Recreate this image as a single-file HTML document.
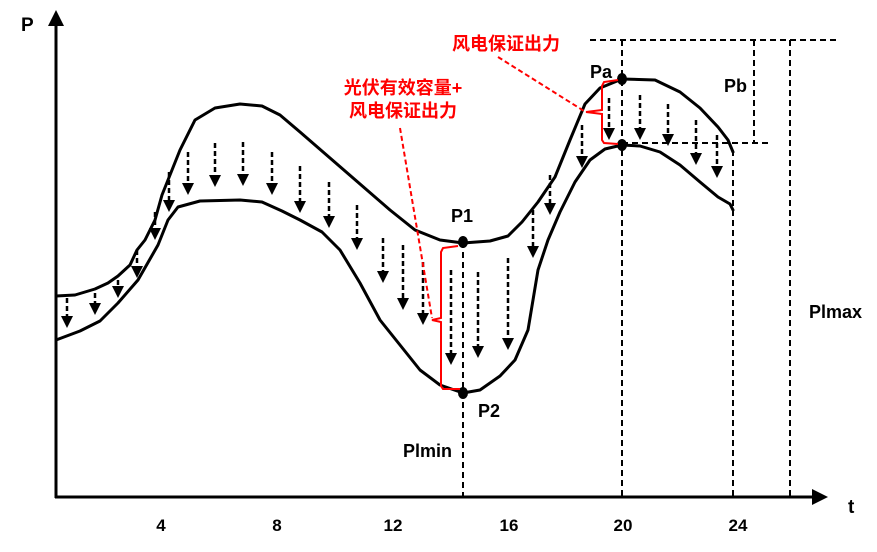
<!DOCTYPE html>
<html><head><meta charset="utf-8"><style>
html,body{margin:0;padding:0;background:#fff;}
svg text{font-family:"Liberation Sans","Noto Sans CJK SC",sans-serif;font-weight:bold;}
</style></head><body>
<svg id="s" width="877" height="547" viewBox="0 0 877 547" xmlns="http://www.w3.org/2000/svg">
<g stroke="#000" stroke-width="3" fill="none" stroke-linejoin="round">
<line x1="56" y1="498" x2="56" y2="22"/>
<line x1="55" y1="497" x2="815" y2="497"/>
</g>
<polygon points="56,10 48,26 64,26" fill="#000"/>
<polygon points="828,497 812,489 812,505" fill="#000"/>
<text x="21" y="31" font-size="19">P</text>
<text x="848" y="513" font-size="19">t</text>
<g font-size="17" text-anchor="middle">
<text x="161" y="531">4</text><text x="277" y="531">8</text><text x="393" y="531">12</text>
<text x="509" y="531">16</text><text x="623" y="531">20</text><text x="738" y="531">24</text>
</g>
<g stroke="#000" stroke-width="2" stroke-dasharray="6,4" fill="none">
<line x1="463" y1="242" x2="463" y2="497"/>
<line x1="622" y1="40" x2="622" y2="497"/>
<line x1="733" y1="150" x2="733" y2="497"/>
<line x1="790" y1="40" x2="790" y2="497"/>
<line x1="590" y1="40" x2="840" y2="40"/>
<line x1="622" y1="143" x2="772" y2="143"/>
<line x1="754" y1="40" x2="754" y2="143"/>
</g>
<g id="arr"></g>
<g stroke="#000" stroke-width="3" fill="none" stroke-linejoin="round" stroke-linecap="round">
<polyline points="56,296 75,295 95,289 108,283 118,276 130,265 137,250 145,240 155,220 162,195 170,175 180,150 195,120 215,108 240,104 262,106 280,115 300,132 330,158 360,184 390,210 415,230 440,240 463,243 490,241 508,236 522,222 538,202 555,177 570,140 585,104 600,88 622,79 655,80 680,92 700,108 718,127 728,140 733,152"/>
<polyline points="56,340 80,331 100,321 118,303 138,280 158,245 168,220 178,207 200,201 240,200 262,202 282,211 300,220 322,232 340,250 360,283 380,320 400,345 420,370 440,385 463,393 480,390 500,376 515,360 528,330 533,300 538,270 548,240 560,212 575,182 590,160 605,149 622,145 640,146 660,152 680,165 700,182 718,197 730,204 733,210"/>
</g>
<g fill="#000">
<ellipse cx="463" cy="242" rx="5" ry="6"/><ellipse cx="463" cy="393" rx="5" ry="6"/>
<ellipse cx="622" cy="79" rx="5" ry="6"/><ellipse cx="622" cy="145" rx="5" ry="6"/>
</g>
<g stroke="#f00" stroke-width="2" fill="none">
<polyline points="458,246 443,248 441,252 441,318 432,320 441,322 441,386 443,389 460,389"/>
<polyline points="618,80 604,82 602,86 602,110 586,112 602,114 602,140 604,143 618,144"/>
<line x1="400" y1="128" x2="432" y2="318" stroke-dasharray="5,3"/>
<line x1="498" y1="57" x2="584" y2="111" stroke-dasharray="5,3"/>
</g>
<g fill="#f00" font-size="18" text-anchor="middle">
<text x="403" y="94">光伏有效容量+</text>
<text x="403" y="117">风电保证出力</text>
<text x="506" y="50">风电保证出力</text>
</g>
<g font-size="18" fill="#000">
<text x="451" y="222">P1</text>
<text x="478" y="417">P2</text>
<text x="590" y="78">Pa</text>
<text x="724" y="92">Pb</text>
<text x="403" y="457">Plmin</text>
<text x="809" y="318">Plmax</text>
</g>
</svg>
<script>
var a=[[67,298,328],[95,293,315],[118,280,298],[137,250,278],[155,212,240],[169,172,212],[188,152,195],[215,143,187],[243,142,186],[272,152,195],[300,166,213],[329,182,228],[357,205,250],[383,238,283],[403,245,310],[423,262,325],[451,270,365],[478,272,358],[508,258,350],[533,210,258],[550,175,215],[582,125,168],[609,98,140],[640,95,140],[668,104,146],[696,120,165],[717,135,178]];
var g=document.getElementById('arr'),h='';
a.forEach(function(v){var x=v[0],t=v[1],b=v[2];
h+='<line x1="'+x+'" y1="'+t+'" x2="'+x+'" y2="'+(b-10)+'" stroke="#000" stroke-width="2.5" stroke-dasharray="5,3"/>';
h+='<polygon points="'+(x-6)+','+(b-12)+' '+(x+6)+','+(b-12)+' '+x+','+b+'" fill="#000"/>';});
g.innerHTML=h;
</script>
</body></html>
